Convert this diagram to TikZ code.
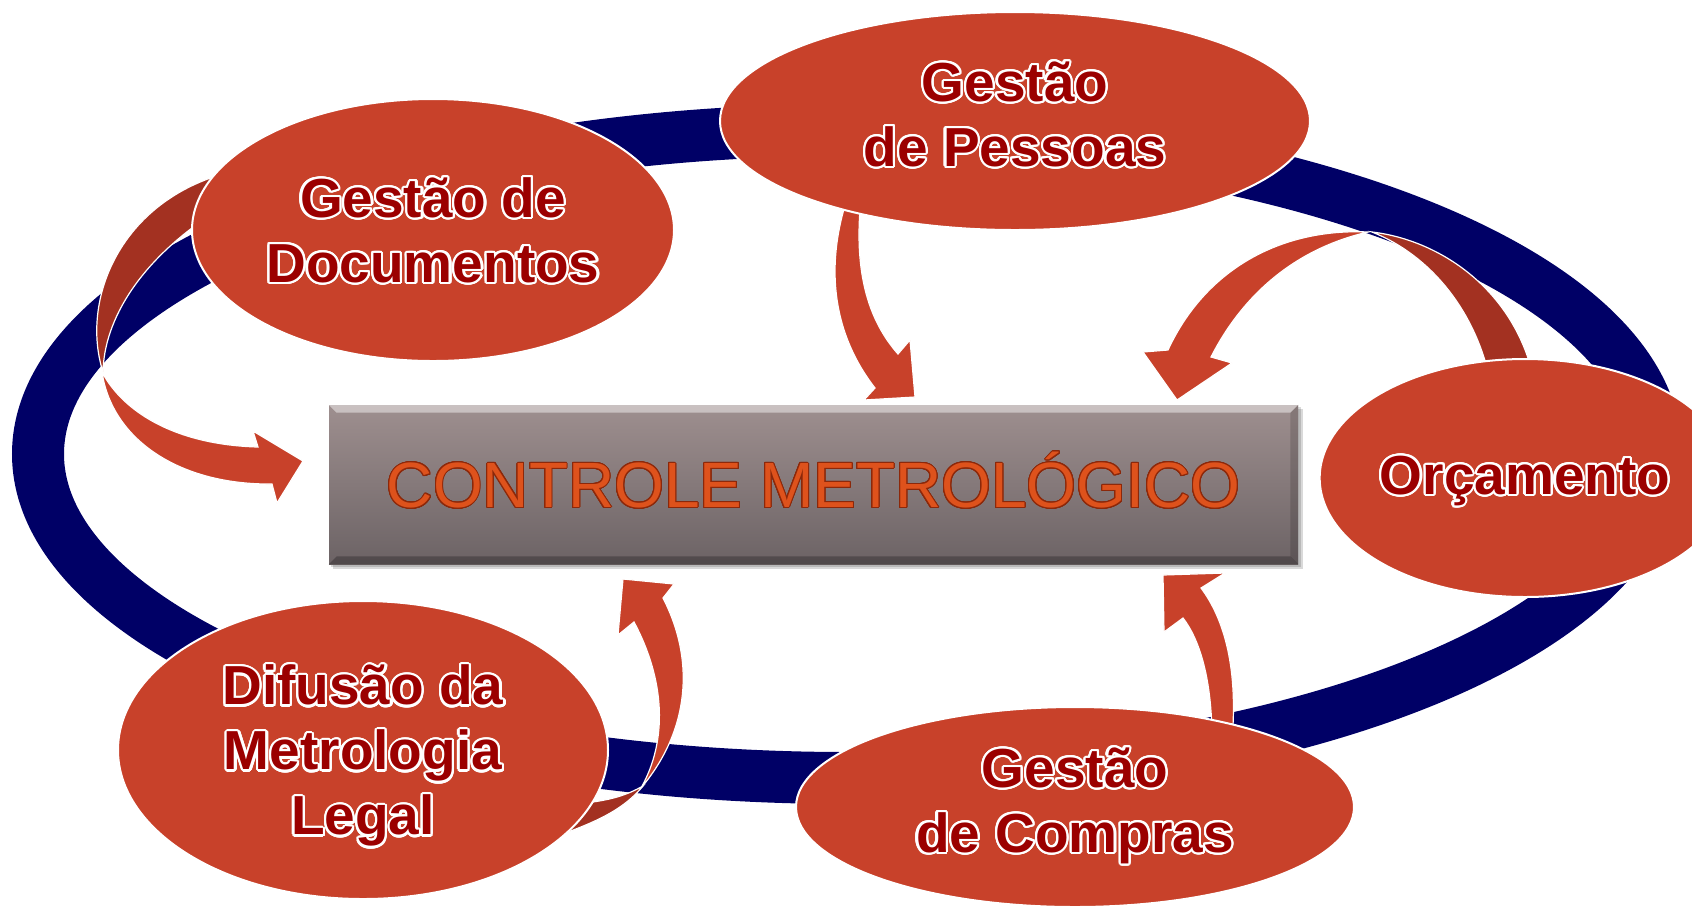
\documentclass[tikz,border=0pt]{standalone}
\usepackage{fontspec}
\setmainfont{Liberation Sans}
\usepackage[copies]{contour}
\usetikzlibrary{positioning,shapes.geometric}
\definecolor{ringblue}{RGB}{0,0,102}
\definecolor{blobred}{RGB}{200,65,42}
\definecolor{backred}{RGB}{163,49,33}
\definecolor{wordred}{RGB}{155,0,0}
\definecolor{boxtop}{RGB}{158,143,143}
\definecolor{boxbot}{RGB}{108,99,101}
\definecolor{titleorange}{RGB}{222,82,28}
\definecolor{titleedge}{RGB}{140,40,10}
\contournumber{24}
\contourlength{1.1pt}
\newcommand{\wl}[1]{\contour{white}{#1}}

\begin{document}
\begin{tikzpicture}[x=0.5pt,y=-0.5pt,
blob/.style={draw=white,line width=1pt,fill=blobred,ellipse,inner sep=0pt,outer sep=0pt,
    text=wordred,align=center,text depth=0pt,
    font=\bfseries\fontsize{27.5}{32.5}\selectfont},
back/.style={fill=backred,draw=white,line width=0.6pt},
front/.style={fill=blobred,draw=white,line width=0.6pt}]
\useasboundingbox (0,0) rectangle (1692,907);
\clip (0,0) rectangle (1692,907);

\draw[ringblue,line width=26pt] (847,454) ellipse [x radius=809,y radius=324];

% curved arrows
\path[back] (230,172) .. controls (120,200) and (80,300) .. (103,372)
    .. controls (104,320) and (140,260) .. (215,212) -- cycle;
\path[front] (102,372) .. controls (112,440) and (180,485) .. (272,484)
    -- (277,503) -- (303,461) -- (253,431) -- (258,447)
    .. controls (180,445) and (125,415) .. (102,372) -- cycle;
\path[front] (850,190) .. controls (825,260) and (830,330) .. (875,388)
    -- (864,400) -- (915,397) -- (910,340) -- (898,354)
    .. controls (868,320) and (852,270) .. (862,190) -- cycle;
\path[back] (1372,232) .. controls (1440,240) and (1515,290) .. (1534,380)
    -- (1490,380) .. controls (1475,310) and (1430,255) .. (1372,232) -- cycle;
\path[front] (1368,232) .. controls (1280,228) and (1205,270) .. (1168,350)
    -- (1143,352) -- (1177,400) -- (1232,363) -- (1211,357)
    .. controls (1240,300) and (1290,250) .. (1368,232) -- cycle;
\path[back] (568,832) .. controls (600,820) and (625,808) .. (643,786)
    .. controls (625,796) and (610,800) .. (585,803) -- cycle;
\path[front] (641,788) .. controls (690,730) and (695,660) .. (663,598)
    -- (674,584) -- (623,579) -- (618,635) -- (634,622)
    .. controls (665,680) and (668,740) .. (641,788) -- cycle;
\path[front] (1212,740) .. controls (1212,680) and (1200,640) .. (1183,618)
    -- (1164,632) -- (1163,575) -- (1225,573) -- (1201,588)
    .. controls (1225,620) and (1238,670) .. (1232,740) -- cycle;

\node (docs) [blob,minimum width=241pt,minimum height=131pt] at (433,230) {\wl{Gestão de}\\\wl{Documentos}};
\node (pessoas) [blob,minimum width=295pt,minimum height=109pt,text depth=7pt] at (1015,121) {\wl{Gestão}\\\wl{de Pessoas}};
\node (orcam) [blob,minimum width=195pt,minimum height=119pt,text depth=3pt] at (1525,478) {\wl{Orçamento}};
\node (difusao) [blob,minimum width=245pt,minimum height=149pt] at (363,750) {\wl{Difusão da}\\\wl{Metrologia}\\\wl{Legal}};
\node (compras) [blob,minimum width=279pt,minimum height=100pt,text depth=7pt] at (1075,807) {\wl{Gestão}\\\wl{de Compras}};

\fill[black,opacity=0.15] (333,409) rectangle (1303,569);
\fill[black,opacity=0.15] (331,407) rectangle (1301,567);
\node (ctrl) [rectangle,top color=boxtop,bottom color=boxbot,inner sep=0pt,
    minimum width=484.5pt,minimum height=79.5pt] at (813.5,484.5) {};
\fill[white,opacity=0.45] (ctrl.north west) -- (ctrl.north east)
    -- ([xshift=-4pt,yshift=-4pt]ctrl.north east) -- ([xshift=4pt,yshift=-4pt]ctrl.north west) -- cycle;
\fill[black,opacity=0.25] (ctrl.south west) -- (ctrl.south east)
    -- ([xshift=-4pt,yshift=4pt]ctrl.south east) -- ([xshift=4pt,yshift=4pt]ctrl.south west) -- cycle;
\fill[black,opacity=0.15] (ctrl.north east) -- (ctrl.south east)
    -- ([xshift=-4pt,yshift=4pt]ctrl.south east) -- ([xshift=-4pt,yshift=-4pt]ctrl.north east) -- cycle;
\node (title) [text=titleorange,inner sep=0pt,text height=23pt,text depth=0pt,
    font=\fontsize{32}{36}\selectfont] at (ctrl.center)
    {\contourlength{0.5pt}\contour{titleedge}{CONTROLE METROLÓGICO}};
\end{tikzpicture}
\end{document}
